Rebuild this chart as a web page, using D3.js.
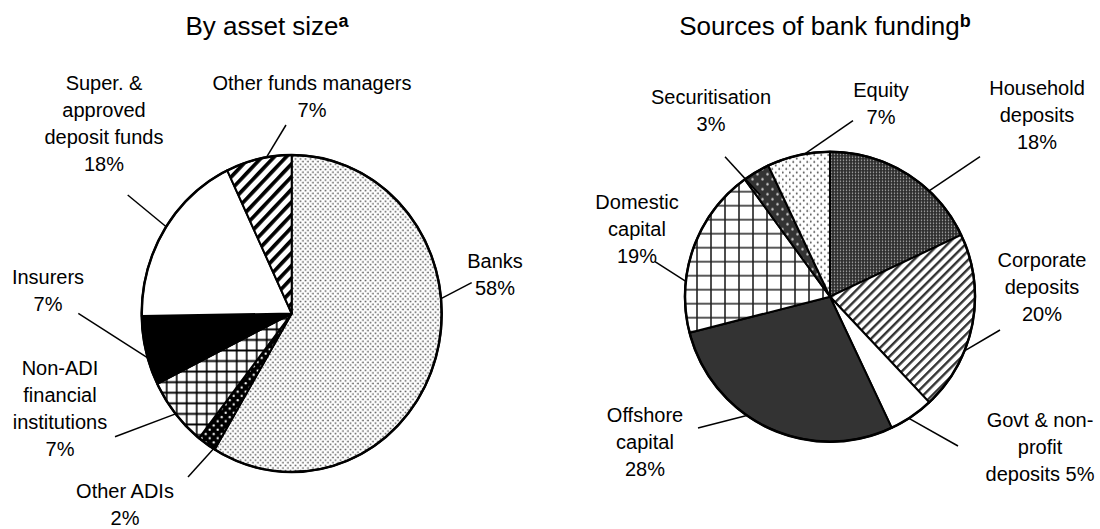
<!DOCTYPE html>
<html lang="en">
<head>
<meta charset="utf-8">
<title>Financial system shares</title>
<script src="https://cdn.jsdelivr.net/npm/d3@7/dist/d3.min.js"></script>
<style>
body { margin: 0; background: #fff; }
text { font-family: "Liberation Sans", Arial, sans-serif; fill: #000; }
.slice { stroke: #000; stroke-width: 2; stroke-linejoin: round; vector-effect: non-scaling-stroke; }
.rim { fill: none; stroke: #000; stroke-width: 2.5; vector-effect: non-scaling-stroke; }
.leader { stroke: #000; stroke-width: 1.5; fill: none; }
</style>
</head>
<body>
<script>
var w = 1100, h = 529;

// By asset size (per cent)
var assetNames = ["Banks", "Other ADIs", "Non-ADI financial institutions", "Insurers",
                  "Super. & approved deposit funds", "Other funds managers"];
var assetShares = [58, 2, 7, 7, 18, 7];
var assetLines = [["Banks", "{p}"], ["Other ADIs", "{p}"], ["Non-ADI", "financial", "institutions", "{p}"],
                  ["Insurers", "{p}"], ["Super. &", "approved", "deposit funds", "{p}"], ["Other funds managers", "{p}"]];

// Sources of bank funding (per cent)
var fundNames = ["Household deposits", "Corporate deposits", "Govt & non-profit deposits",
                 "Offshore capital", "Domestic capital", "Securitisation", "Equity"];
var fundShares = [18, 20, 5, 28, 19, 3, 7];
var fundLines = [["Household", "deposits", "{p}"], ["Corporate", "deposits", "{p}"], ["Govt & non-", "profit", "deposits {p}"],
                 ["Offshore", "capital", "{p}"], ["Domestic", "capital", "{p}"], ["Securitisation", "{p}"], ["Equity", "{p}"]];

var titles = ["By asset size", "Sources of bank funding"];
var titleNotes = ["a", "b"];

// layout: label first-line centre, leader angle on rim (deg) and leader end
var assetLabelPos = [[495, 261], [125, 491], [60, 368], [48, 277], [104, 83], [312, 83]];
var assetLeader = [[84.6, 1, 471.7, 282.7], [211.4, 1, 188, 477], [230.7, 1, 115, 436.7],
                   [253.7, 1, 78.3, 313.3], [303.2, 1, 127.7, 195], [350.3, 1, 286, 125]];
var fundLabelPos = [[1037, 88], [1042, 260], [1040, 420], [645, 415], [637, 202], [711, 97], [881, 90]];
var fundLeader = [[43.1, 1, 980, 156.7], [111.9, 1, 1000, 330], [147, 1, 958, 446], [215, 1, 698, 428],
                  [276.1, 1, 655, 261.7], [325.5, 0.85, 725, 156.7], [350, 1, 853, 120.7]];

var assetFills = ["url(#pBanks)", "url(#pAdi)", "url(#pGrid)", "#000", "#fff", "url(#pStripe)"];
var fundFills = ["url(#pHouse)", "url(#pCorp)", "#fff", "#333", "url(#pGrid2)", "url(#pSec)", "url(#pEquity)"];

var svg = d3.select("body").append("svg")
  .attr("width", w)
  .attr("height", h);

var defs = svg.append("defs");

function pattern(id, size, bg, rot) {
  var p = defs.append("pattern")
    .attr("id", id)
    .attr("patternUnits", "userSpaceOnUse")
    .attr("width", size)
    .attr("height", size);
  if (rot) p.attr("patternTransform", "rotate(" + rot + ")");
  p.append("rect").attr("width", size).attr("height", size).attr("fill", bg);
  return p;
}
function dots(p, size, r, col) {
  p.append("circle").attr("cx", size / 4).attr("cy", size / 4).attr("r", r).attr("fill", col);
  p.append("circle").attr("cx", size * 3 / 4).attr("cy", size * 3 / 4).attr("r", r).attr("fill", col);
}
dots(pattern("pBanks", 5, "#fff"), 5, 0.8, "#444");
dots(pattern("pAdi", 8, "#000"), 8, 1.1, "#fff");
dots(pattern("pSec", 10, "#333"), 10, 1.2, "#ccc");
dots(pattern("pEquity", 7, "#fff"), 7, 1, "#555");
pattern("pHouse", 3, "#2e2e2e").append("circle").attr("cx", 1.5).attr("cy", 1.5).attr("r", 0.75).attr("fill", "#bbb");
pattern("pGrid", 10, "#fff").append("path").attr("d", "M0,5H10M5,0V10").attr("stroke", "#000").attr("stroke-width", 1.6);
pattern("pGrid2", 14, "#fff").append("path").attr("d", "M0,7H14M7,0V14").attr("stroke", "#222").attr("stroke-width", 1.6);
pattern("pStripe", 8.5, "#fff", 45).append("rect").attr("x", 0).attr("width", 3.6).attr("height", 8.5).attr("fill", "#000");
pattern("pCorp", 6.4, "#fff", 45).append("rect").attr("x", 0).attr("width", 2.4).attr("height", 6.4).attr("fill", "#333");

var pie = d3.pie().sort(null).value(function(d) { return d; });

function drawPie(cx, cy, rx, ry, names, values, fills, lines, labelPos, leaders, title, note, titleX) {
  var arc = d3.arc().innerRadius(0).outerRadius(rx);
  var g = svg.append("g")
    .attr("transform", "translate(" + cx + "," + cy + ") scale(1," + (ry / rx) + ")");

  g.selectAll("path")
    .data(pie(values))
    .enter()
    .append("path")
    .attr("class", "slice")
    .attr("d", arc)
    .attr("fill", function(d, i) { return fills[i]; })
    .append("title")
    .text(function(d, i) { return names[i]; });

  g.append("circle").attr("class", "rim").attr("r", rx);

  // leader lines
  svg.selectAll(null)
    .data(leaders)
    .enter()
    .append("line")
    .attr("class", "leader")
    .attr("x1", function(d) { return cx + rx * d[1] * Math.sin(d[0] * Math.PI / 180); })
    .attr("y1", function(d) { return cy - ry * d[1] * Math.cos(d[0] * Math.PI / 180); })
    .attr("x2", function(d) { return d[2]; })
    .attr("y2", function(d) { return d[3]; });

  // labels
  var lab = svg.selectAll(null)
    .data(lines)
    .enter()
    .append("text")
    .attr("text-anchor", "middle")
    .attr("font-size", 20);
  lab.each(function(d, i) {
    var t = d3.select(this);
    d.forEach(function(s, k) {
      t.append("tspan")
        .attr("x", labelPos[i][0])
        .attr("y", labelPos[i][1] + k * 27)
        .attr("dy", "0.35em")
        .text(s.replace("{p}", values[i] + "%"));
    });
  });

  var tt = svg.append("text")
    .attr("x", titleX)
    .attr("y", 35)
    .attr("text-anchor", "middle")
    .attr("font-size", 26)
    .text(title);
  tt.append("tspan")
    .attr("font-size", 18)
    .attr("font-weight", "bold")
    .attr("dy", -8)
    .text(note);
}

drawPie(291.7, 313.5, 150, 158.5, assetNames, assetShares, assetFills, assetLines,
        assetLabelPos, assetLeader, titles[0], titleNotes[0], 267);
drawPie(830, 296.7, 145, 145, fundNames, fundShares, fundFills, fundLines,
        fundLabelPos, fundLeader, titles[1], titleNotes[1], 825);
</script>
</body>
</html>
